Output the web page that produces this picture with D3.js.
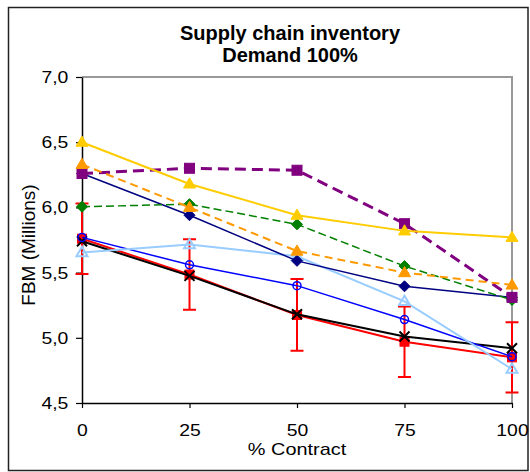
<!DOCTYPE html>
<html>
<head>
<meta charset="utf-8">
<script src="https://cdn.jsdelivr.net/npm/d3@7"></script>
<style>
  html, body { margin: 0; padding: 0; background: #fff; }
  svg { display: block; font-family: "Liberation Sans", Arial, sans-serif; }
</style>
</head>
<body>
<svg id="chart" width="530" height="472"></svg>
<script>
// ---- data ----
const contractPct = [0, 25, 50, 75, 100];
const xTickLabels = ["0", "25", "50", "75", "100"];
const yTicks = [4.5, 5.0, 5.5, 6.0, 6.5, 7.0];

const redSquares      = [5.76, 5.485, 5.175, 4.97, 4.85];
const redErrors       = [0.27, 0.27, 0.275, 0.27, 0.27];
const blackCrosses    = [5.74, 5.475, 5.18, 5.01, 4.92];
const blueCircles     = [5.77, 5.56, 5.40, 5.14, 4.855];
const lightBlueTris   = [5.655, 5.715, 5.625, 5.28, 4.76];
const navyDiamonds    = [6.26, 5.94, 5.59, 5.395, 5.31];
const greenDiamonds   = [6.005, 6.025, 5.87, 5.55, 5.29];
const purpleSquares   = [6.26, 6.30, 6.285, 5.875, 5.31];
const orangeTris      = [6.33, 6.00, 5.665, 5.50, 5.405];
const yellowTris      = [6.50, 6.18, 5.94, 5.82, 5.77];

const titleLines = ["Supply chain inventory", "Demand 100%"];
const xTitle = "% Contract";
const yTitle = "FBM (Millions)";

// ---- series styling (draw order bottom -> top) ----
const series = [
  {vals: redSquares, err: redErrors, color: "#FF0000", width: 2, dash: null, marker: "square", fill: true, size: 9},
  {vals: blackCrosses, color: "#000000", width: 2, dash: null, marker: "x", size: 10},
  {vals: blueCircles, color: "#0000FF", width: 1.5, dash: null, marker: "circle", fill: false, size: 9},
  {vals: lightBlueTris, color: "#99CCFF", width: 2, dash: null, marker: "triangle", fill: false, size: 11},
  {vals: navyDiamonds, color: "#000080", width: 1.5, dash: null, marker: "diamond", fill: true, size: 11},
  {vals: greenDiamonds, color: "#008000", width: 1.5, dash: "8,4", marker: "diamond", fill: true, size: 11},
  {vals: purpleSquares, color: "#800080", width: 3, dash: "11,6", marker: "square", fill: true, size: 10},
  {vals: orangeTris, color: "#FF9900", width: 2, dash: "8,5", marker: "triangle", fill: true, size: 12},
  {vals: yellowTris, color: "#FFCC00", width: 2, dash: null, marker: "triangle", fill: true, size: 12}
];

const svg = d3.select("#chart");

// outer border
svg.append("rect").attr("x", 8.5).attr("y", 7.5).attr("width", 519.5).attr("height", 463)
  .attr("fill", "#fff").attr("stroke", "#222").attr("stroke-width", 1.5);

const x = d3.scaleLinear().domain([0, 100]).range([82, 512]);
const y = d3.scaleLinear().domain([4.5, 7.0]).range([403, 77]);

// plot area border (top & right grey)
svg.append("path")
  .attr("d", `M${x(0)},${y(7)}H${x(100)}V${y(4.5)}`)
  .attr("fill", "none").attr("stroke", "#999").attr("stroke-width", 2);

// axes
const fmt = d => d3.format(".1f")(d).replace(".", ",");
const yAxis = svg.append("g").attr("transform", `translate(${x(0)},0)`)
  .call(d3.axisLeft(y).tickValues(yTicks).tickFormat(fmt).tickSize(6).tickSizeOuter(0));
const xAxis = svg.append("g").attr("transform", `translate(0,${y(4.5)})`)
  .call(d3.axisBottom(x).tickValues(contractPct).tickFormat((d, i) => xTickLabels[i]).tickSize(5).tickSizeOuter(0));

[yAxis, xAxis].forEach(g => {
  g.select(".domain").attr("stroke", "#000").attr("stroke-width", 1.5);
  g.selectAll(".tick line").attr("stroke", "#000").attr("stroke-width", 1.2);
  g.selectAll("text").attr("font-size", 17).attr("fill", "#000")
    .attr("font-family", "Liberation Sans, Arial, sans-serif")
    .attr("transform", "scale(1.14,1)");
});
yAxis.selectAll("text").attr("x", -12);
xAxis.selectAll("text").attr("y", 20.5);

// titles
const title = svg.append("text").attr("text-anchor", "middle")
  .attr("font-weight", "bold").attr("font-size", 20).attr("fill", "#000");
title.append("tspan").attr("x", 290).attr("y", 40).text(titleLines[0]);
title.append("tspan").attr("x", 290).attr("y", 62).text(titleLines[1]);

svg.append("text").attr("transform", `translate(297,455) scale(1.17,1)`)
  .attr("text-anchor", "middle").attr("font-size", 17).attr("fill", "#000").text(xTitle);

svg.append("text").attr("transform", `translate(35,245) rotate(-90)`)
  .attr("text-anchor", "middle").attr("font-size", 19).attr("fill", "#000").text(yTitle);

// series
const line = d3.line().x((d, i) => x(contractPct[i])).y(d => y(d));

function drawMarker(g, s, cx, cy) {
  const r = s.size / 2;
  const fill = s.fill ? s.color : "none";
  if (s.marker === "square") {
    g.append("rect").attr("x", cx - r).attr("y", cy - r).attr("width", s.size).attr("height", s.size)
      .attr("fill", fill).attr("stroke", s.color).attr("stroke-width", 1);
  } else if (s.marker === "circle") {
    g.append("circle").attr("cx", cx).attr("cy", cy).attr("r", r - 0.5)
      .attr("fill", fill).attr("stroke", s.color).attr("stroke-width", 1.5);
  } else if (s.marker === "triangle") {
    const h = s.size * 0.85;
    g.append("path").attr("d", `M${cx},${cy - h * 0.6}L${cx + r},${cy + h * 0.4}L${cx - r},${cy + h * 0.4}Z`)
      .attr("fill", fill).attr("stroke", s.color).attr("stroke-width", s.fill ? 1 : 2);
  } else if (s.marker === "diamond") {
    g.append("path").attr("d", `M${cx},${cy - r}L${cx + r},${cy}L${cx},${cy + r}L${cx - r},${cy}Z`)
      .attr("fill", fill).attr("stroke", s.color).attr("stroke-width", 1);
  } else if (s.marker === "x") {
    g.append("path").attr("d", `M${cx - r},${cy - r}L${cx + r},${cy + r}M${cx - r},${cy + r}L${cx + r},${cy - r}`)
      .attr("stroke", s.color).attr("stroke-width", 2).attr("fill", "none");
  }
}

series.forEach(s => {
  const g = svg.append("g");
  g.append("path").datum(s.vals).attr("d", line)
    .attr("fill", "none").attr("stroke", s.color).attr("stroke-width", s.width)
    .attr("stroke-dasharray", s.dash);
  if (s.err) {
    s.vals.forEach((v, i) => {
      const cx = x(contractPct[i]);
      const top = y(v + s.err[i]), bot = y(v - s.err[i]);
      g.append("path")
        .attr("d", `M${cx},${top}V${bot}M${cx - 6.5},${top}H${cx + 6.5}M${cx - 6.5},${bot}H${cx + 6.5}`)
        .attr("stroke", s.color).attr("stroke-width", 2).attr("fill", "none");
    });
  }
  s.vals.forEach((v, i) => drawMarker(g, s, x(contractPct[i]), y(v)));
});
</script>
</body>
</html>
